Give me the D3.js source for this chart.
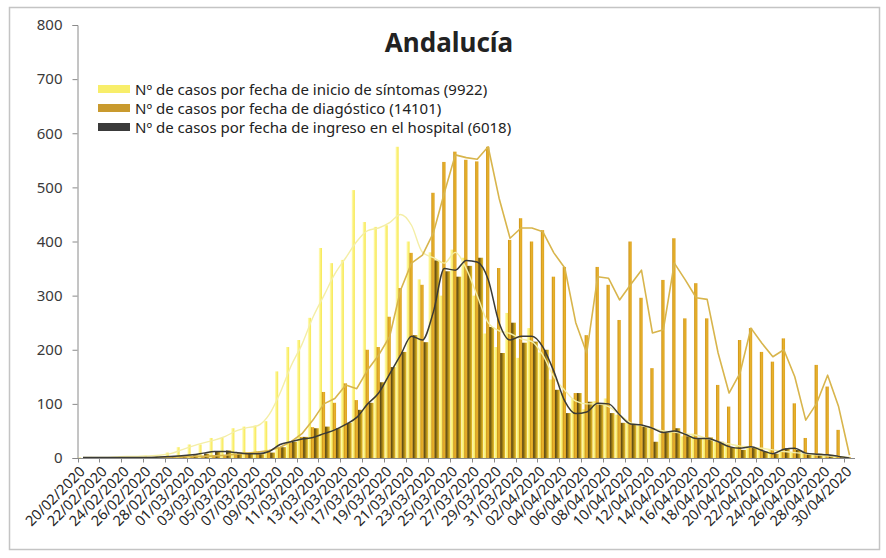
<!DOCTYPE html>
<html><head><meta charset="utf-8">
<script src="https://cdn.jsdelivr.net/npm/d3@7"></script>
<style>body{margin:0;background:#fff}</style>
</head><body>
<svg id="c" width="886" height="558"></svg>
<script>
const chartTitle = "Andalucía";
const dates = [
"20/02/2020","21/02/2020","22/02/2020","23/02/2020","24/02/2020","25/02/2020","26/02/2020","27/02/2020","28/02/2020","29/02/2020",
"01/03/2020","02/03/2020","03/03/2020","04/03/2020","05/03/2020","06/03/2020","07/03/2020","08/03/2020","09/03/2020","10/03/2020",
"11/03/2020","12/03/2020","13/03/2020","14/03/2020","15/03/2020","16/03/2020","17/03/2020","18/03/2020","19/03/2020","20/03/2020",
"21/03/2020","22/03/2020","23/03/2020","24/03/2020","25/03/2020","26/03/2020","27/03/2020","28/03/2020","29/03/2020","30/03/2020",
"31/03/2020","01/04/2020","02/04/2020","03/04/2020","04/04/2020","05/04/2020","06/04/2020","07/04/2020","08/04/2020","09/04/2020",
"10/04/2020","11/04/2020","12/04/2020","13/04/2020","14/04/2020","15/04/2020","16/04/2020","17/04/2020","18/04/2020","19/04/2020",
"20/04/2020","21/04/2020","22/04/2020","23/04/2020","24/04/2020","25/04/2020","26/04/2020","27/04/2020","28/04/2020","29/04/2020",
"30/04/2020"];
// Nº de casos por fecha de inicio de síntomas
const symptoms = [1,2,0,2,3,3,4,5,10,20, 25,25,37,37,55,58,60,68,160,205, 218,259,388,360,366,495,436,427,430,575,
  400,330,380,300,385,370,300,230,205,268, 185,240,195,145,120,110,90,105,110,80, 65,60,55,45,50,40,45,35,30,25,
  22,20,18,15,12,10,8,6,4,3, 1];
// Nº de casos por fecha de diagnóstico
const diagnosis = [0,0,0,0,0,0,1,1,2,3, 2,4,5,6,8,10,12,15,20,28, 39,57,122,102,138,107,200,205,261,314,
  379,320,490,547,566,551,548,575,351,403, 443,400,421,335,353,120,227,353,320,255, 400,296,166,329,406,258,323,258,135,95,
  218,240,196,178,221,101,37,172,132,52, 2];
// Nº de casos por fecha de ingreso en el hospital
const hospital = [0,1,0,1,0,1,1,2,2,3, 5,8,12,14,10,8,7,10,20,30, 39,55,58,55,65,89,102,140,168,196,
  227,214,365,345,335,355,370,242,194,250, 213,215,200,126,83,120,104,101,83,65, 61,58,30,47,55,40,35,38,30,20,
  15,20,12,8,18,15,8,8,6,3, 0];
// trend lines
const symptomsTrend = [1,1,1,2,3,3,4,5,8,15, 22,28,33,40,50,56,60,80,120,170, 210,260,300,340,370,400,420,425,435,450,
  430,380,370,360,380,350,300,250,235,230, 220,215,190,150,125,105,100,100,95,80, 65,60,55,50,48,45,42,36,30,26,
  22,20,18,15,12,10,8,6,4,3, 1];
const diagnosisTrend = [0,0,0,0,0,0,1,1,2,2, 3,3,4,5,7,9,11,14,20,30, 45,70,100,110,135,128,163,190,224,310,
  360,375,416,490,560,555,552,575,480,406, 425,425,418,379,351,250,194,335,332,292, 320,347,231,237,360,329,296,293,194,120,
  157,240,212,187,200,150,70,101,153,95, 5];
const hospitalTrend = [1,1,1,1,1,1,1,2,3,4, 6,9,12,12,10,8,8,12,25,30, 35,38,45,52,62,75,100,120,155,190,
  225,218,270,350,347,365,362,330,250,218, 225,225,205,160,105,82,85,101,100,80, 63,61,55,47,50,44,36,36,30,21,
  18,21,14,8,16,18,9,7,6,3, 0];
const yTicks = [0,100,200,300,400,500,600,700,800];
const legendLabels = [
  "Nº de casos por fecha de inicio de síntomas (9922)",
  "Nº de casos por fecha de diagóstico (14101)",
  "Nº de casos por fecha de ingreso en el hospital (6018)"];

const svg = d3.select("#c");
const font = "'Noto Sans', 'Open Sans', sans-serif";

// frame
svg.append("rect").attr("x",9.5).attr("y",7.5).attr("width",870).attr("height",542)
  .attr("fill","#fff").attr("stroke","#c4c4c4").attr("stroke-width",1.5);

const defs = svg.append("defs");
function grad(id, stops){
  const g = defs.append("linearGradient").attr("id",id).attr("x1","0").attr("x2","1").attr("y1","0").attr("y2","0");
  stops.forEach(s=>g.append("stop").attr("offset",s[0]).attr("stop-color",s[1]));
}
grad("gY",[[0,"#fffbc8"],[0.5,"#fbf27a"],[1,"#f6e654"]]);
grad("gG",[[0,"#c98f14"],[0.5,"#e8b22c"],[1,"#dca222"]]);
grad("gH",[[0,"#3a3016"],[0.35,"#7a6114"],[0.75,"#c9a21c"],[1,"#e8c234"]]);

const x = d3.scaleBand().domain(dates).range([77.5, 855]).paddingInner(0).paddingOuter(0);
const y = d3.scaleLinear().domain([0,800]).range([458,25]);
const bw = x.bandwidth();

// bars
const g = svg.append("g");
g.selectAll(".ys").data(dates).join("rect")
  .attr("x",d=>x(d)+0.4).attr("width",3.2)
  .attr("y",(d,i)=>y(symptoms[i])).attr("height",(d,i)=>y(0)-y(symptoms[i]))
  .attr("fill","url(#gY)");
g.selectAll(".hs").data(dates).join("rect")
  .attr("x",d=>x(d)+6.2).attr("width",5.2)
  .attr("y",(d,i)=>y(hospital[i])).attr("height",(d,i)=>y(0)-y(hospital[i]))
  .attr("fill","url(#gH)");
g.selectAll(".ds").data(dates).join("rect")
  .attr("x",d=>x(d)+3.4).attr("width",3.3)
  .attr("y",(d,i)=>y(diagnosis[i])).attr("height",(d,i)=>y(0)-y(diagnosis[i]))
  .attr("fill","url(#gG)");

// lines
const cx = d=>x(d)+bw/2;
function drawLine(vals, color, w, curve){
  const line = d3.line().x((d,i)=>cx(dates[i])).y(d=>y(d)).curve(curve);
  svg.append("path").datum(vals).attr("d",line).attr("fill","none")
    .attr("stroke",color).attr("stroke-width",w).attr("stroke-linejoin","round");
}
drawLine(symptomsTrend,"#f4eea6",1.4,d3.curveMonotoneX);
drawLine(diagnosisTrend,"#d8b54c",1.6,d3.curveLinear);
drawLine(hospitalTrend,"#3a3a36",1.5,d3.curveMonotoneX);

// y axis
const ya = svg.append("g").attr("transform","translate(77.5,0)")
  .call(d3.axisLeft(y).tickValues(yTicks).tickSize(5).tickPadding(10).tickFormat(d3.format("d")));
ya.select(".domain").attr("stroke","#8a8a8a");
ya.selectAll(".tick line").attr("stroke","#8a8a8a");
ya.selectAll("text").attr("font-family",font).attr("font-size",15).attr("fill","#3a3a3a");

// x axis
const xa = svg.append("g").attr("transform","translate(0,458.5)");
xa.append("line").attr("x1",77.5).attr("x2",855).attr("stroke","#8a8a8a");
xa.selectAll(".xt").data(dates.filter((d,i)=>i%2===0)).join("line")
  .attr("x1",d=>Math.round(x(d))+0.5).attr("x2",d=>Math.round(x(d))+0.5).attr("y1",0).attr("y2",4)
  .attr("stroke","#8a8a8a");
xa.selectAll(".xl").data(dates.filter((d,i)=>i%2===0)).join("text")
  .attr("transform",d=>`translate(${cx(d)+3},${14}) rotate(-45)`)
  .attr("text-anchor","end").attr("font-family",font).attr("font-size",14.5)
  .attr("fill","#262626").text(d=>d);

// title
svg.append("text").attr("x",449).attr("y",52).attr("text-anchor","middle")
  .attr("font-family",font).attr("font-weight","bold").attr("font-size",26)
  .attr("fill","#222").text(chartTitle);

// legend
const legFills = ["#f8ee6a","#c99a2e","#3a3a3a"];
const lg = svg.append("g");
legendLabels.forEach((t,i)=>{
  const yy = 89 + i*19;
  lg.append("rect").attr("x",98).attr("y",yy-4).attr("width",32).attr("height",8).attr("fill",legFills[i]);
  lg.append("text").attr("x",135).attr("y",yy).attr("dominant-baseline","central")
    .attr("font-family",font).attr("font-size",15).attr("fill","#222").text(t);
});
</script>
</body></html>
